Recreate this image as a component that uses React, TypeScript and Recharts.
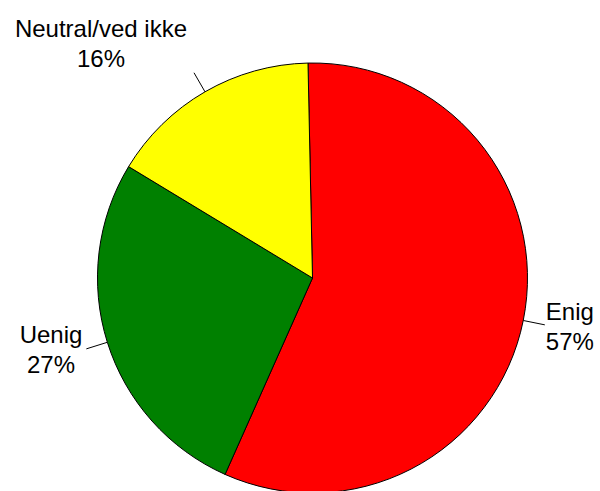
import { PieChart, Pie, Cell } from "recharts";

const categories = ["Enig", "Uenig", "Neutral/ved ikke"];
const shares = [57, 27, 16];
const colors = ["#FF0000", "#008000", "#FFFF00"];

const data = categories.map((name, i) => ({ name, value: shares[i] }));

const RAD = Math.PI / 180;
const FONT_SIZE = 24;
const FONT = `${FONT_SIZE}px 'Liberation Sans', Arial, sans-serif`;
const LINE_EXT = 22;
const LINE_GAP = 30;

let ctx: CanvasRenderingContext2D | null = null;
function textWidth(s: string) {
  if (!ctx) ctx = document.createElement("canvas").getContext("2d");
  if (!ctx) return s.length * 12;
  ctx.font = FONT;
  return ctx.measureText(s).width;
}

function polar(cx: number, cy: number, r: number, angle: number) {
  return { x: cx + r * Math.cos(-angle * RAD), y: cy + r * Math.sin(-angle * RAD) };
}

function renderLabel(props: any) {
  const { cx, cy, midAngle, outerRadius, name, value } = props;
  const e = polar(cx, cy, outerRadius + LINE_EXT, midAngle);
  const pct = `${value}%`;
  const w = Math.max(textWidth(name), textWidth(pct));
  const c = Math.cos(midAngle * RAD);
  const s = Math.sin(midAngle * RAD);
  let left: number;
  let base: number;
  if (c > 0.3) {
    left = e.x + 1;
    base = e.y + 1.5 - 6.4;
  } else if (s > 0.5) {
    left = e.x - 7 - w;
    base = e.y - 6 - LINE_GAP;
  } else {
    left = e.x - 4 - w;
    base = e.y + 1 - 6.4;
  }
  const mid = left + w / 2;
  return (
    <text
      fontFamily="'Liberation Sans', Arial, sans-serif"
      fontSize={FONT_SIZE}
      fill="#000"
      textAnchor="middle"
    >
      <tspan x={mid} y={base}>{name}</tspan>
      <tspan x={mid} y={base + LINE_GAP}>{pct}</tspan>
    </text>
  );
}

function renderLabelLine(props: any) {
  const { cx, cy, midAngle, outerRadius } = props;
  const a = polar(cx, cy, outerRadius, midAngle);
  const b = polar(cx, cy, outerRadius + LINE_EXT, midAngle);
  return <path d={`M${a.x},${a.y}L${b.x},${b.y}`} stroke="#000" strokeWidth={1} fill="none" />;
}

export default function App() {
  return (
    <div style={{ position: "absolute", left: 0, top: 0, width: 600, height: 491, background: "#fff" }}>
      <PieChart width={600} height={491} margin={{ top: 0, right: 0, bottom: 0, left: 0 }}>
        <Pie
          data={data}
          dataKey="value"
          nameKey="name"
          cx={312.5}
          cy={278}
          outerRadius={215}
          startAngle={91.2}
          endAngle={-268.8}
          stroke="#000"
          strokeWidth={1}
          label={renderLabel}
          labelLine={renderLabelLine}
          isAnimationActive={false}
        >
          {data.map((d, i) => (
            <Cell key={d.name} fill={colors[i]} />
          ))}
        </Pie>
      </PieChart>
    </div>
  );
}
